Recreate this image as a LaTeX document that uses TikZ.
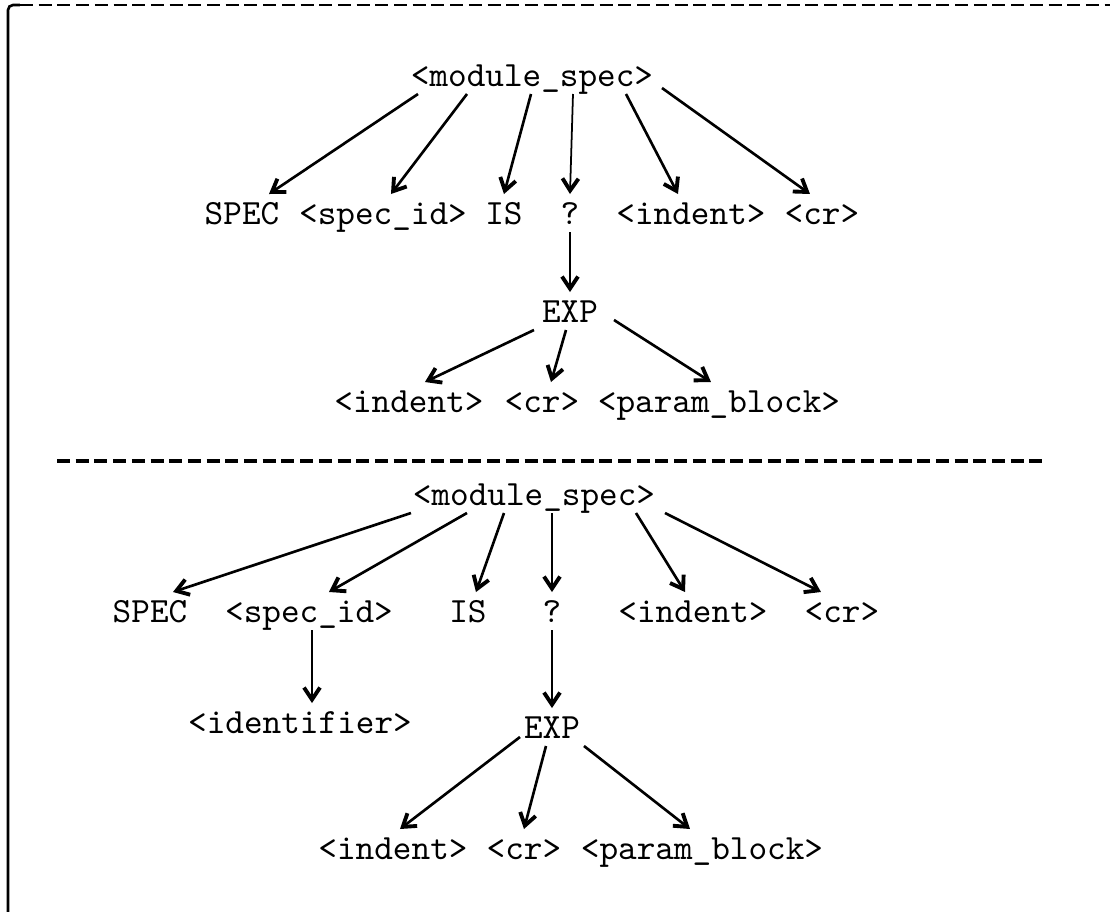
\documentclass[tikz,border=0pt]{standalone}
\usepackage{fontspec}
\usetikzlibrary{arrows.meta}

\tikzset{
  tok/.style={font=\ttfamily\fontsize{10.1}{12}\selectfont, inner sep=0pt, outer sep=0pt,
              text height=0.22cm, text depth=0cm, minimum height=0.38cm},
  arr/.style={line width=0.75pt, -{Straight Barb[length=1.2mm,width=1.6mm,line width=1.1pt]}},
  rule/.style={line width=0.9pt, dash pattern=on 0.13cm off 0.057cm}
}

\begin{document}
\begin{tikzpicture}
\useasboundingbox (0,0) rectangle (11.10,-9.12);

% Frame and separator
\draw[line width=0.75pt, rounded corners=0.05cm] (0.08,-9.12) -- (0.08,-0.05) -- (0.20,-0.05);
\draw[rule, line width=0.6pt] (0.20,-0.05) -- (11.10,-0.05);
\draw[rule] (0.57,-4.61) -- (10.46,-4.61);

% First tree
\node[tok] (ms1) at (5.32,-0.75) {<module\_spec>};
\node[tok] (spec1) at (2.42,-2.13) {SPEC};
\node[tok] (sid1) at (3.83,-2.13) {<spec\_id>};
\node[tok] (is1) at (5.04,-2.13) {IS};
\node[tok] (q1) at (5.70,-2.13) {?};
\node[tok] (ind1) at (6.91,-2.13) {<indent>};
\node[tok] (cr1) at (8.22,-2.13) {<cr>};
\node[tok] (exp1) at (5.70,-3.11) {EXP};
\node[tok] (ind1b) at (4.09,-4.01) {<indent>};
\node[tok] (cr1b) at (5.42,-4.01) {<cr>};
\node[tok] (pb1) at (7.19,-4.01) {<param\_block>};
% module_spec
\draw[arr] ([xshift=-1.14cm]ms1.south) -- ([xshift=0.27cm]spec1.north);
\draw[arr] ([xshift=-0.65cm]ms1.south) -- ([xshift=0.08cm]sid1.north);
\draw[arr] ([xshift=-0.01cm]ms1.south) -- (is1.north);
\draw[arr, line width=0.5pt] ([xshift=0.41cm]ms1.south) -- (q1.north);
\draw[arr] ([xshift=0.94cm]ms1.south) -- ([xshift=-0.13cm]ind1.north);
\draw[arr] ([xshift=1.30cm,yshift=0.06cm]ms1.south) -- ([xshift=-0.12cm]cr1.north);
% ?
\draw[arr] (q1.south) -- (exp1.north);
% EXP
\draw[arr] ([xshift=-0.36cm]exp1.south) -- ([xshift=0.16cm]ind1b.north);
\draw[arr] ([xshift=-0.04cm]exp1.south) -- ([xshift=0.09cm]cr1b.north);
\draw[arr] ([xshift=0.44cm,yshift=0.1cm]exp1.south) -- ([xshift=-0.08cm]pb1.north);

% Second tree
\node[tok] (ms2) at (5.34,-4.94) {<module\_spec>};
\node[tok] (spec2) at (1.50,-6.11) {SPEC};
\node[tok] (sid2) at (3.09,-6.11) {<spec\_id>};
\node[tok] (is2) at (4.68,-6.11) {IS};
\node[tok] (q2) at (5.52,-6.11) {?};
\node[tok] (ind2) at (6.93,-6.11) {<indent>};
\node[tok] (cr2) at (8.42,-6.11) {<cr>};
\node[tok] (ident2) at (3.00,-7.22) {<identifier>};
\node[tok] (exp2) at (5.52,-7.27) {EXP};
\node[tok] (ind2b) at (3.93,-8.48) {<indent>};
\node[tok] (cr2b) at (5.24,-8.48) {<cr>};
\node[tok] (pb2) at (7.02,-8.48) {<param\_block>};
% module_spec
\draw[arr] ([xshift=-1.23cm]ms2.south) -- ([xshift=0.23cm]spec2.north);
\draw[arr] ([xshift=-0.67cm]ms2.south) -- ([xshift=0.20cm]sid2.north);
\draw[arr] ([xshift=-0.30cm]ms2.south) -- ([xshift=0.08cm]is2.north);
\draw[arr, line width=0.5pt] ([xshift=0.18cm]ms2.south) -- (q2.north);
\draw[arr] ([xshift=1.02cm]ms2.south) -- ([xshift=-0.08cm]ind2.north);
\draw[arr] ([xshift=1.31cm]ms2.south) -- ([xshift=-0.21cm]cr2.north);
% <spec_id> and ?
\draw[arr] ([xshift=0.03cm]sid2.south) -- ([xshift=0.12cm]ident2.north);
\draw[arr] (q2.south) -- (exp2.north);
% EXP
\draw[arr] ([xshift=-0.32cm,yshift=0.09cm]exp2.south) -- ([xshift=0.07cm]ind2b.north);
\draw[arr] ([xshift=-0.06cm]exp2.south) -- (cr2b.north);
\draw[arr] ([xshift=0.32cm]exp2.south) -- ([xshift=-0.12cm]pb2.north);

\end{tikzpicture}
\end{document}
